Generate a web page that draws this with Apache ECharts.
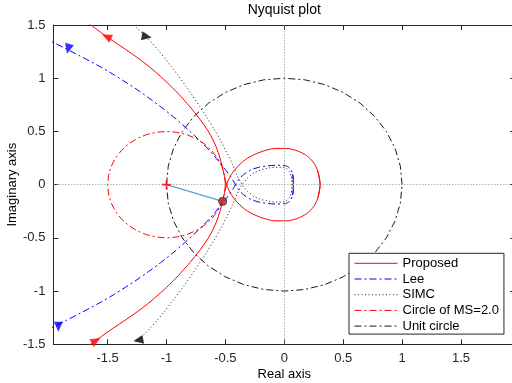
<!DOCTYPE html>
<html><head><meta charset="utf-8">
<script src="https://cdn.jsdelivr.net/npm/echarts@6/dist/echarts.min.js"></script>
<style>html,body{margin:0;padding:0;background:#fff}#c{width:512px;height:383px}</style>
</head><body><div id="c"></div>
<script>
const xTicks = [-1.5, -1, -0.5, 0, 0.5, 1, 1.5];
const yTicks = [-1.5, -1, -0.5, 0, 0.5, 1, 1.5];
const legendNames = ['Proposed', 'Lee', 'SIMC', 'Circle of MS=2.0', 'Unit circle'];

const proposedUpper = [[-1.70,1.545],[-1.60,1.465],[-1.50,1.385],[-1.40,1.310],[-1.30,1.235],[-1.20,1.155],[-1.10,1.065],[-1.00,0.965],[-0.90,0.855],[-0.80,0.730],[-0.72,0.620],[-0.65,0.510],[-0.60,0.410],[-0.56,0.300],[-0.53,0.185],[-0.507,0.075],[-0.485,-0.015],[-0.45,-0.095],[-0.40,-0.165],[-0.33,-0.235],[-0.25,-0.285],[-0.16,-0.322],[-0.07,-0.340],[0.02,-0.340],[0.11,-0.318],[0.19,-0.272],[0.25,-0.205],[0.283,-0.130],[0.298,-0.060],[0.304,0.0],[0.298,0.060],[0.283,0.130]];
const proposedLower = [[-1.70,-1.545],[-1.60,-1.465],[-1.50,-1.385],[-1.40,-1.310],[-1.30,-1.235],[-1.20,-1.155],[-1.10,-1.065],[-1.00,-0.965],[-0.90,-0.855],[-0.80,-0.730],[-0.72,-0.620],[-0.65,-0.510],[-0.60,-0.410],[-0.56,-0.300],[-0.53,-0.185],[-0.507,-0.075],[-0.485,0.015],[-0.45,0.095],[-0.40,0.165],[-0.33,0.235],[-0.25,0.285],[-0.16,0.322],[-0.07,0.340],[0.02,0.340],[0.11,0.318],[0.19,0.272],[0.25,0.205],[0.283,0.130],[0.298,0.060],[0.304,0.0],[0.298,-0.060],[0.283,-0.130]];

const leeUpper = [[-2.05,1.382],[-1.95,1.330],[-1.85,1.275],[-1.75,1.218],[-1.65,1.160],[-1.55,1.100],[-1.45,1.035],[-1.35,0.965],[-1.25,0.893],[-1.15,0.815],[-1.05,0.733],[-0.95,0.645],[-0.85,0.550],[-0.75,0.448],[-0.66,0.350],[-0.58,0.250],[-0.51,0.155],[-0.455,0.075],[-0.418,0.008],[-0.385,-0.050],[-0.345,-0.095],[-0.29,-0.135],[-0.22,-0.162],[-0.14,-0.177],[-0.06,-0.182],[0.01,-0.178],[0.05,-0.150],[0.07,-0.100],[0.077,-0.035],[0.077,0.035],[0.07,0.100]];
const leeLower = [[-2.05,-1.382],[-1.95,-1.330],[-1.85,-1.275],[-1.75,-1.218],[-1.65,-1.160],[-1.55,-1.100],[-1.45,-1.035],[-1.35,-0.965],[-1.25,-0.893],[-1.15,-0.815],[-1.05,-0.733],[-0.95,-0.645],[-0.85,-0.550],[-0.75,-0.448],[-0.66,-0.350],[-0.58,-0.250],[-0.51,-0.155],[-0.455,-0.075],[-0.418,-0.008],[-0.385,0.050],[-0.345,0.095],[-0.29,0.135],[-0.22,0.162],[-0.14,0.177],[-0.06,0.182],[0.01,0.178],[0.05,0.150],[0.07,0.100],[0.077,0.035],[0.077,-0.035],[0.07,-0.100]];

const simcUpper = [[-1.26,1.480],[-1.20,1.418],[-1.14,1.350],[-1.08,1.275],[-1.02,1.195],[-0.96,1.110],[-0.90,1.023],[-0.84,0.932],[-0.78,0.837],[-0.72,0.738],[-0.66,0.636],[-0.60,0.528],[-0.54,0.412],[-0.49,0.305],[-0.44,0.190],[-0.40,0.088],[-0.37,0.022],[-0.345,-0.020],[-0.31,-0.065],[-0.26,-0.108],[-0.20,-0.138],[-0.13,-0.157],[-0.06,-0.163],[0.005,-0.158],[0.042,-0.125],[0.060,-0.075],[0.066,-0.025],[0.066,0.025],[0.060,0.075]];
const simcLower = [[-1.26,-1.480],[-1.20,-1.418],[-1.14,-1.350],[-1.08,-1.275],[-1.02,-1.195],[-0.96,-1.110],[-0.90,-1.023],[-0.84,-0.932],[-0.78,-0.837],[-0.72,-0.738],[-0.66,-0.636],[-0.60,-0.528],[-0.54,-0.412],[-0.49,-0.305],[-0.44,-0.190],[-0.40,-0.088],[-0.37,-0.022],[-0.345,0.020],[-0.31,0.065],[-0.26,0.108],[-0.20,0.138],[-0.13,0.157],[-0.06,0.163],[0.005,0.158],[0.042,0.125],[0.060,0.075],[0.066,0.025],[0.066,-0.025],[0.060,-0.075]];

const msCircle = [[-0.5,0],[-0.508,0.087],[-0.530,0.171],[-0.567,0.25],[-0.617,0.321],[-0.679,0.383],[-0.75,0.433],[-0.829,0.470],[-0.913,0.492],[-1,0.5],[-1.087,0.492],[-1.171,0.470],[-1.25,0.433],[-1.321,0.383],[-1.383,0.321],[-1.433,0.25],[-1.470,0.171],[-1.492,0.087],[-1.5,0],[-1.492,-0.087],[-1.470,-0.171],[-1.433,-0.25],[-1.383,-0.321],[-1.321,-0.383],[-1.25,-0.433],[-1.171,-0.470],[-1.087,-0.492],[-1,-0.5],[-0.913,-0.492],[-0.829,-0.470],[-0.75,-0.433],[-0.679,-0.383],[-0.617,-0.321],[-0.567,-0.25],[-0.530,-0.171],[-0.508,-0.087],[-0.5,0]];

const unitCircle = [[1,0],[0.985,0.174],[0.940,0.342],[0.866,0.5],[0.766,0.643],[0.643,0.766],[0.5,0.866],[0.342,0.940],[0.174,0.985],[0,1],[-0.174,0.985],[-0.342,0.940],[-0.5,0.866],[-0.643,0.766],[-0.766,0.643],[-0.866,0.5],[-0.940,0.342],[-0.985,0.174],[-1,0],[-0.985,-0.174],[-0.940,-0.342],[-0.866,-0.5],[-0.766,-0.643],[-0.643,-0.766],[-0.5,-0.866],[-0.342,-0.940],[-0.174,-0.985],[0,-1],[0.174,-0.985],[0.342,-0.940],[0.5,-0.866],[0.643,-0.766],[0.766,-0.643],[0.866,-0.5],[0.940,-0.342],[0.985,-0.174],[1,0]];

const criticalPoint = [[-1, 0]];
const msPoint = [[-0.523, -0.157]];
const msSegment = [[-1, 0], [-0.523, -0.157]];

const redArrows = [[-1.508, 1.391], [-1.598, -1.465]];
const blueArrows = [[-1.834, 1.276], [-1.918, -1.336]];
const blackArrows = [[-1.168, 1.391], [-1.239, -1.462]];
const redArrowRot = [65, -60];
const blueArrowRot = [165, 180];
const blackArrowRot = [-100, 100];

const FONT = 'Liberation Sans, Arial, sans-serif';
const RED = '#ff0000', BLUE = '#0000ff', BLACK = '#1a1a1a';
const DASHDOT = [7, 3, 2, 3];

function curve(name, data, color, type, z) {
  return { type: 'line', name, data, symbol: 'none', showSymbol: false, smooth: 0.3, z: z || 3,
    lineStyle: { color, width: 1, type }, itemStyle: { color } };
}
function arrows(data, rots, color) {
  return { type: 'scatter', data: data.map((d, i) => ({ value: d, symbolRotate: rots[i] })),
    symbol: 'triangle', symbolSize: [9, 10], itemStyle: { color }, z: 6, silent: true };
}

const chart = echarts.init(document.getElementById('c'), null, { renderer: 'canvas' });
chart.setOption({
  animation: false,
  backgroundColor: '#fff',
  grid: { left: 53.4, top: 25, width: 461.8, height: 319.3, containLabel: false, outerBoundsMode: 'none' },
  xAxis: [
    { type: 'value', min: -1.96, max: 1.96, position: 'bottom',
      axisLine: { onZero: false, lineStyle: { color: '#262626', width: 1 } },
      axisTick: { inside: true, length: 5, customValues: xTicks, lineStyle: { color: '#262626' } },
      axisLabel: { customValues: xTicks, margin: 8, color: '#262626', fontSize: 13, fontFamily: FONT },
      splitLine: { show: false } },
    { type: 'value', min: -1.96, max: 1.96, position: 'top',
      axisLine: { onZero: false, lineStyle: { color: '#262626', width: 1 } },
      axisTick: { inside: true, length: 5, customValues: xTicks, lineStyle: { color: '#262626' } },
      axisLabel: { show: false }, splitLine: { show: false } }
  ],
  yAxis: [
    { type: 'value', min: -1.5, max: 1.5, interval: 0.5, position: 'left',
      axisLine: { show: true, onZero: false, lineStyle: { color: '#262626', width: 1 } },
      axisTick: { show: true, inside: true, length: 5, lineStyle: { color: '#262626' } },
      axisLabel: { margin: 8, color: '#262626', fontSize: 13, fontFamily: FONT },
      splitLine: { show: false } },
    { type: 'value', min: -1.5, max: 1.5, interval: 0.5, position: 'right',
      axisLine: { show: true, onZero: false, lineStyle: { color: '#262626', width: 1 } },
      axisTick: { show: true, inside: true, length: 5, lineStyle: { color: '#262626' } },
      axisLabel: { show: false }, splitLine: { show: false } }
  ],
  legend: {
    data: legendNames, orient: 'vertical', left: 349, top: 253.3,
    itemWidth: 43, itemHeight: 12, itemGap: 2.7, padding: [3.5, 5, 1.5, 5],
    backgroundColor: '#fff', borderColor: '#262626', borderWidth: 1, borderRadius: 0,
    itemStyle: { opacity: 0 }, lineStyle: { width: 1 },
    textStyle: { fontSize: 13, lineHeight: 13, color: '#000', fontFamily: FONT },
    selectedMode: false
  },
  graphic: [
    { type: 'text', x: 284.3, y: 10, style: { text: 'Nyquist plot', font: '14px ' + FONT, fill: '#000', textAlign: 'center', textVerticalAlign: 'middle' } },
    { type: 'text', x: 284.3, y: 374, style: { text: 'Real axis', font: '13px ' + FONT, fill: '#000', textAlign: 'center', textVerticalAlign: 'middle' } },
    { type: 'text', x: 12, y: 184.7, rotation: Math.PI / 2, style: { text: 'Imaginary axis', font: '13px ' + FONT, fill: '#000', textAlign: 'center', textVerticalAlign: 'middle' } }
  ],
  series: [
    { type: 'line', name: 'zero', data: [[0, 0]], symbol: 'none', lineStyle: { opacity: 0 }, z: 1, silent: true,
      markLine: { silent: true, symbol: ['none', 'none'], label: { show: false },
        lineStyle: { color: '#8a8a8a', width: 1, type: [1, 2] },
        data: [{ xAxis: 0 }, { yAxis: 0 }] } },
    curve('Proposed', proposedUpper, RED, 'solid', 4),
    curve('Proposed', proposedLower, RED, 'solid', 4),
    curve('Lee', leeUpper, BLUE, DASHDOT, 3),
    curve('Lee', leeLower, BLUE, DASHDOT, 3),
    curve('SIMC', simcUpper, BLACK, [1, 2.5], 3),
    curve('SIMC', simcLower, BLACK, [1, 2.5], 3),
    { type: 'line', name: 'Circle of MS=2.0', data: msCircle, symbol: 'none', z: 2,
      lineStyle: { color: RED, width: 1, type: DASHDOT }, itemStyle: { color: RED } },
    { type: 'line', name: 'Unit circle', data: unitCircle, symbol: 'none', z: 2,
      lineStyle: { color: BLACK, width: 1, type: DASHDOT }, itemStyle: { color: BLACK } },
    { type: 'line', name: 'ms-seg', data: msSegment, symbol: 'none', z: 5, silent: true,
      lineStyle: { color: '#5ba3d8', width: 1.5 } },
    { type: 'scatter', name: 'crit', data: criticalPoint, z: 6, silent: true,
      symbol: 'path://M4,0h2v10h-2z M0,4h10v2h-10z', symbolSize: 9, itemStyle: { color: RED } },
    { type: 'scatter', name: 'mspt', data: msPoint, z: 7, silent: true,
      symbol: 'circle', symbolSize: 8, itemStyle: { color: '#c81e1e', borderColor: '#222', borderWidth: 1 } },
    arrows(redArrows, redArrowRot, RED),
    arrows(blueArrows, blueArrowRot, BLUE),
    arrows(blackArrows, blackArrowRot, '#000')
  ]
});
</script></body></html>
